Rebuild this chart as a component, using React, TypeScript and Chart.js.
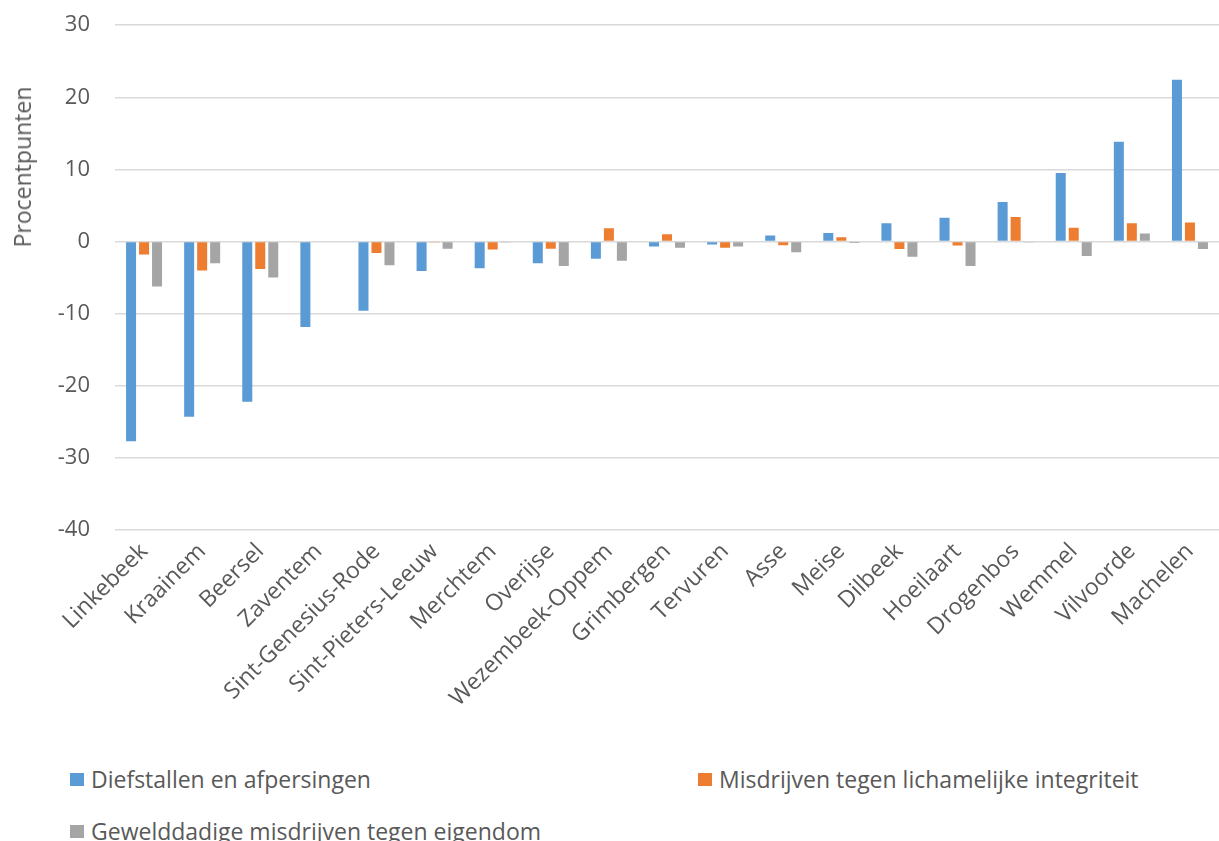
import React, { useEffect, useRef } from "react";
import { Chart, registerables } from "chart.js";

Chart.register(...registerables);

const categories = [
  "Linkebeek", "Kraainem", "Beersel", "Zaventem", "Sint-Genesius-Rode",
  "Sint-Pieters-Leeuw", "Merchtem", "Overijse", "Wezembeek-Oppem", "Grimbergen",
  "Tervuren", "Asse", "Meise", "Dilbeek", "Hoeilaart", "Drogenbos", "Wemmel",
  "Vilvoorde", "Machelen",
];

const diefstallen = [
  -27.7, -24.3, -22.2, -11.85, -9.6, -4.07, -3.7, -3.0, -2.4, -0.7,
  -0.4, 0.85, 1.2, 2.55, 3.3, 5.5, 9.5, 13.85, 22.45,
];

const lichamelijk = [
  -1.8, -4.0, -3.8, -0.1, -1.6, -0.05, -1.1, -1.0, 1.85, 1.0,
  -0.85, -0.5, 0.6, -1.05, -0.55, 3.4, 1.9, 2.55, 2.65,
];

const eigendom = [
  -6.25, -3.0, -5.0, 0, -3.3, -1.0, -0.05, -3.4, -2.65, -0.85,
  -0.7, -1.5, -0.2, -2.1, -3.4, -0.05, -2.0, 1.1, -1.05,
];

const seriesNames = [
  "Diefstallen en afpersingen",
  "Misdrijven tegen lichamelijke integriteit",
  "Gewelddadige misdrijven tegen eigendom",
];
const seriesColors = ["#5b9bd5", "#ed7d31", "#a5a5a5"];

const yTitle = "Procentpunten";
const FONT = "'Open Sans', 'Noto Sans', sans-serif";
const TEXT = "#595959";

export default function App() {
  const ref = useRef<HTMLCanvasElement | null>(null);

  useEffect(() => {
    if (!ref.current) return;
    const chart = new Chart(ref.current, {
      type: "bar",
      data: {
        labels: categories,
        datasets: [diefstallen, lichamelijk, eigendom].map((d, i) => ({
          label: seriesNames[i],
          data: d,
          backgroundColor: seriesColors[i],
          borderWidth: 0,
          categoryPercentage: 0.671,
          barPercentage: 0.77,
        })),
      },
      options: {
        animation: false,
        responsive: false,
        maintainAspectRatio: false,
        layout: { padding: { top: 12, right: 0, left: 0, bottom: 0 } },
        plugins: {
          legend: { display: false },
          tooltip: { enabled: false },
        },
        scales: {
          x: {
            grid: { display: false, drawTicks: false },
            border: { display: false },
            ticks: {
              autoSkip: false,
              minRotation: 45,
              maxRotation: 45,
              padding: 8,
              color: TEXT,
              font: { family: FONT, size: 23 },
            },
            afterFit: (scale: any) => {
              scale.height = 230;
            },
          },
          y: {
            min: -40,
            max: 30,
            ticks: {
              stepSize: 10,
              padding: 25,
              color: TEXT,
              font: { family: FONT, size: 22 },
            },
            grid: { color: "#d9d9d9", lineWidth: 1.5, drawTicks: false },
            border: { display: false },
            afterFit: (scale: any) => {
              scale.width = 115;
            },
          },
        },
      },
    });
    return () => chart.destroy();
  }, []);

  const legendItem = (i: number, left: number, top: number) => (
    <div
      key={i}
      style={{
        position: "absolute",
        left,
        top,
        display: "flex",
        alignItems: "center",
        fontFamily: FONT,
        fontSize: 23,
        color: TEXT,
        whiteSpace: "nowrap",
        lineHeight: "28px",
      }}
    >
      <span
        style={{
          display: "inline-block",
          width: 14,
          height: 13,
          background: seriesColors[i],
          marginRight: 7,
        }}
      />
      <span>{seriesNames[i]}</span>
    </div>
  );

  return (
    <div
      style={{
        position: "fixed",
        left: 0,
        top: 0,
        width: 1219,
        height: 841,
        background: "#ffffff",
        overflow: "hidden",
      }}
    >
      <canvas
        ref={ref}
        width={1219}
        height={773}
        style={{ position: "absolute", left: 0, top: -13, width: 1219, height: 773 }}
      />
      <div
        style={{
          position: "absolute",
          left: 22,
          top: 167,
          transform: "translate(-50%, -50%) rotate(-90deg)",
          fontFamily: FONT,
          fontSize: 23,
          color: TEXT,
          whiteSpace: "nowrap",
        }}
      >
        {yTitle}
      </div>
      {legendItem(0, 70, 765)}
      {legendItem(1, 698, 765)}
      {legendItem(2, 70, 817)}
    </div>
  );
}
